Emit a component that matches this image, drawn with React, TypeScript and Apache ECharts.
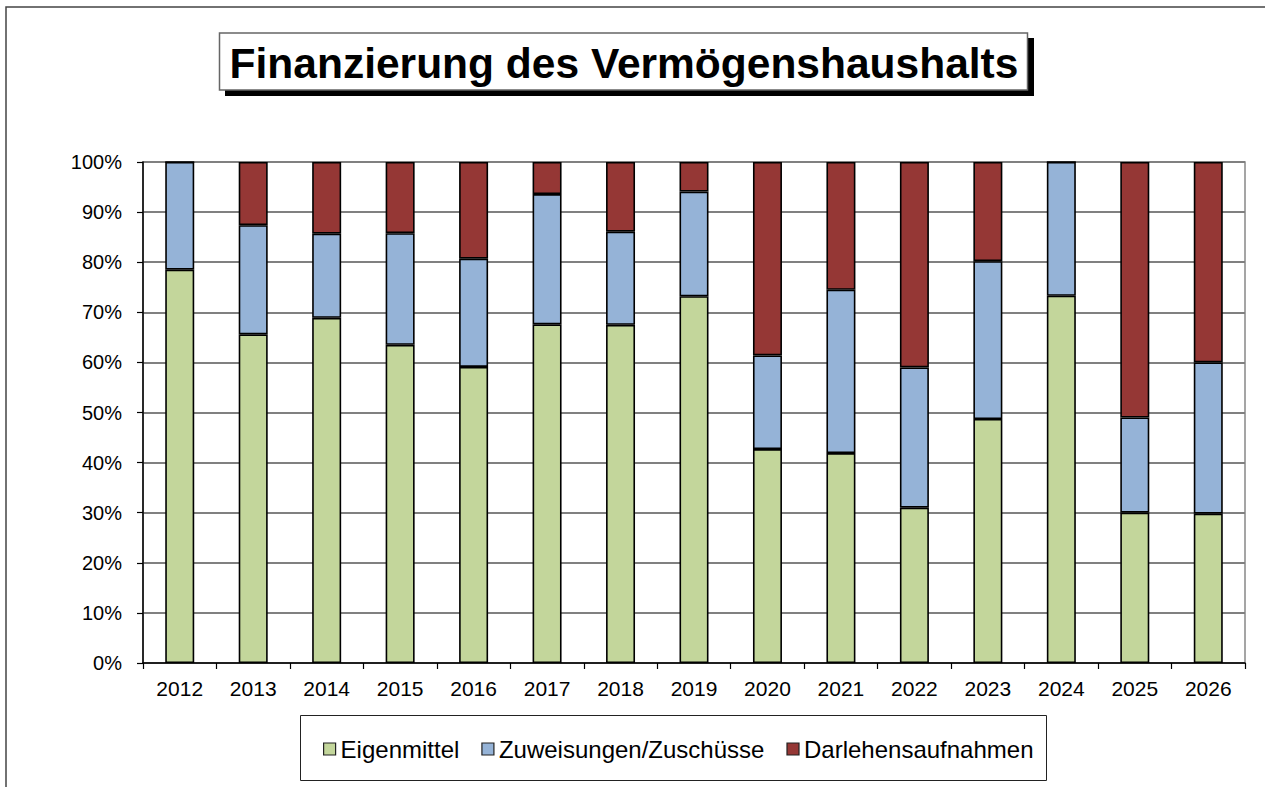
import React, { useEffect, useRef } from "react";
import * as echarts from "echarts";

const titleText = "Finanzierung des Vermögenshaushalts";
const years = ["2012", "2013", "2014", "2015", "2016", "2017", "2018", "2019", "2020", "2021", "2022", "2023", "2024", "2025", "2026"];
const seriesNames = ["Eigenmittel", "Zuweisungen/Zuschüsse", "Darlehensaufnahmen"];
const eigenmittel = [78.5, 65.6, 68.9, 63.5, 59.1, 67.6, 67.5, 73.2, 42.7, 41.9, 31.0, 48.7, 73.3, 30.0, 29.8];
const zuweisungen = [21.5, 21.8, 16.8, 22.3, 21.6, 26.0, 18.6, 20.9, 18.7, 32.6, 28.0, 31.5, 26.7, 19.0, 30.2];
const darlehen = [0, 12.6, 14.3, 14.2, 19.3, 6.4, 13.9, 5.9, 38.6, 25.5, 41.0, 19.8, 0, 51.0, 40.0];
const yTicks = [0, 10, 20, 30, 40, 50, 60, 70, 80, 90, 100];

const colors = ["#C3D69B", "#95B3D7", "#953735"];
const FONT = "'Liberation Sans', Arial, sans-serif";

export default function App() {
  const ref = useRef<HTMLDivElement>(null);
  useEffect(() => {
    if (!ref.current) return;
    const chart = echarts.init(ref.current, null, { renderer: "svg" });
    const values = [eigenmittel, zuweisungen, darlehen];
    chart.setOption({
      animation: false,
      backgroundColor: "#fff",
      textStyle: { fontFamily: FONT, color: "#000" },
      graphic: [
        { type: "rect", shape: { x: 6, y: 7, width: 1400, height: 1000 }, style: { fill: "none", stroke: "#444", lineWidth: 1.5 }, silent: true, z: 0 },
        { type: "rect", shape: { x: 225, y: 38, width: 809, height: 58 }, style: { fill: "#000" }, z: 1 },
        { type: "rect", shape: { x: 219.5, y: 33, width: 808, height: 57 }, style: { fill: "#fff", stroke: "#666", lineWidth: 1.5 }, z: 2 },
        { type: "text", x: 624, y: 63, style: { text: titleText, font: `bold 42.5px ${FONT}`, fill: "#000", align: "center", verticalAlign: "middle" }, z: 3 },
        { type: "rect", shape: { x: 300.5, y: 715.5, width: 746, height: 65 }, style: { fill: "#fff", stroke: "#222", lineWidth: 1 }, z: 1 },
      ],
      grid: {
        left: 143, right: 20, top: 162, bottom: 124,
        show: true, borderColor: "#888", borderWidth: 1.5,
      },
      legend: {
        data: seriesNames,
        left: 323, top: 737, padding: 0,
        icon: "rect", itemWidth: 12, itemHeight: 12, itemGap: 22,
        textStyle: { fontFamily: FONT, fontSize: 24, color: "#000" },
        itemStyle: { borderColor: "#222", borderWidth: 1.2 },
        z: 5,
      },
      xAxis: {
        type: "category",
        data: years,
        axisLine: { lineStyle: { color: "#000", width: 1.5 } },
        axisTick: { show: true, length: 6, lineStyle: { color: "#000", width: 1.2 } },
        axisLabel: { fontFamily: FONT, fontSize: 21, color: "#000", margin: 15 },
      },
      yAxis: {
        type: "value",
        min: 0, max: 100, interval: 10,
        axisLine: { show: true, lineStyle: { color: "#000", width: 1.5 } },
        axisTick: { show: true, length: 6, lineStyle: { color: "#000", width: 1.2 } },
        splitLine: { lineStyle: { color: "#808080", width: 2 } },
        axisLabel: {
          fontFamily: FONT, fontSize: 20, color: "#000", margin: 21,
          formatter: (v: number) => (yTicks.includes(v) ? `${v}%` : ""),
        },
      },
      series: seriesNames.map((name, i) => ({
        name,
        type: "bar",
        stack: "total",
        barWidth: 29,
        data: values[i],
        itemStyle: { color: colors[i], borderColor: "#000", borderWidth: 1.6 },
      })),
    });
    return () => chart.dispose();
  }, []);
  return <div ref={ref} style={{ position: "fixed", left: 0, top: 0, width: 1265, height: 787 }} />;
}
